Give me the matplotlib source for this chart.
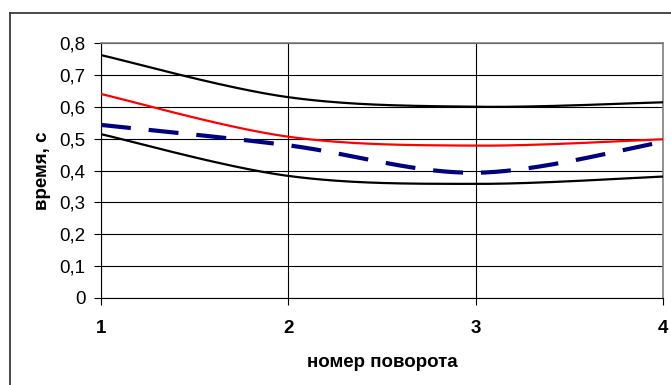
import numpy as np
import matplotlib
matplotlib.use("Agg")
import matplotlib.pyplot as plt
from matplotlib.lines import Line2D

plt.rcParams['font.family'] = ['Liberation Sans', 'DejaVu Sans']

# turn number and measured times, s
turns = [1, 2, 3, 4]
upper_bound = [0.762, 0.630, 0.600, 0.614]
mean_red = [0.640, 0.506, 0.478, 0.498]
mean_blue = [0.543, 0.479, 0.393, 0.490]
lower_bound = [0.514, 0.383, 0.358, 0.381]

y_ticks = [0, 0.1, 0.2, 0.3, 0.4, 0.5, 0.6, 0.7, 0.8]
y_tick_labels = ['0', '0,1', '0,2', '0,3', '0,4', '0,5', '0,6', '0,7', '0,8']
x_tick_labels = ['1', '2', '3', '4']


def smooth(x, y, n=60):
    """Cubic Bezier smoothing through points (control points at 1/6 of neighbour span)."""
    x = np.asarray(x, float)
    y = np.asarray(y, float)
    px = np.concatenate([[x[0]], x, [x[-1]]])
    py = np.concatenate([[y[0]], y, [y[-1]]])
    xs, ys = [], []
    t = np.linspace(0, 1, n)
    for i in range(1, len(px) - 2):
        p0 = np.array([px[i], py[i]])
        p3 = np.array([px[i + 1], py[i + 1]])
        c1 = p0 + (np.array([px[i + 1], py[i + 1]]) - np.array([px[i - 1], py[i - 1]])) / 6
        c2 = p3 - (np.array([px[i + 2], py[i + 2]]) - np.array([px[i], py[i]])) / 6
        b = ((1 - t) ** 3)[:, None] * p0 + (3 * (1 - t) ** 2 * t)[:, None] * c1 \
            + (3 * (1 - t) * t ** 2)[:, None] * c2 + (t ** 3)[:, None] * p3
        xs.append(b[:, 0])
        ys.append(b[:, 1])
    return np.concatenate(xs), np.concatenate(ys)


fig = plt.figure(figsize=(6.71, 3.85), dpi=100)
fig.patch.set_facecolor('white')

# outer chart frame (left and top edges visible)
fx, fy = 9.5 / 671, 1 - 12.5 / 385
fig.add_artist(Line2D([fx, fx], [0, fy], transform=fig.transFigure,
                      color='#3a3a3a', linewidth=1.3))
fig.add_artist(Line2D([fx, 1], [fy, fy], transform=fig.transFigure,
                      color='#3a3a3a', linewidth=1.3))

ax = fig.add_axes([101 / 671, 1 - 298 / 385, (663 - 101) / 671, (298 - 43) / 385])
ax.set_xlim(1, 4)
ax.set_ylim(0, 0.8)

for series, color, lw in [(upper_bound, 'black', 1.6),
                          (mean_red, '#ff0000', 1.6),
                          (lower_bound, 'black', 1.6)]:
    sx, sy = smooth(turns, series)
    ax.plot(sx, sy, color=color, linewidth=lw, solid_capstyle='butt', zorder=3)

bx, by = smooth(turns, mean_blue)
ax.plot(bx, by, color='#000080', linewidth=3.0, dashes=(7.2, 4.3),
        dash_capstyle='butt', zorder=3)

ax.set_xticks(turns)
ax.set_xticklabels(x_tick_labels, fontweight='bold', fontsize=13.5)
ax.set_yticks(y_ticks)
ax.set_yticklabels(y_tick_labels, fontsize=13.5)

ax.grid(True, color='black', linewidth=0.8)
ax.set_axisbelow(True)
for side in ['top', 'right']:
    ax.spines[side].set_color('#808080')
    ax.spines[side].set_linewidth(1.2)
for side in ['left', 'bottom']:
    ax.spines[side].set_color('black')
    ax.spines[side].set_linewidth(0.8)

ax.tick_params(axis='both', direction='out', length=5, width=0.8, color='black')
ax.tick_params(axis='y', pad=6)
ax.tick_params(axis='x', pad=11)

ax.set_xlabel('номер поворота', fontweight='bold', fontsize=13.5, labelpad=12)
ax.set_ylabel('время, с', fontweight='bold', fontsize=13.5, labelpad=6)

fig.savefig('out.png', dpi=100)
